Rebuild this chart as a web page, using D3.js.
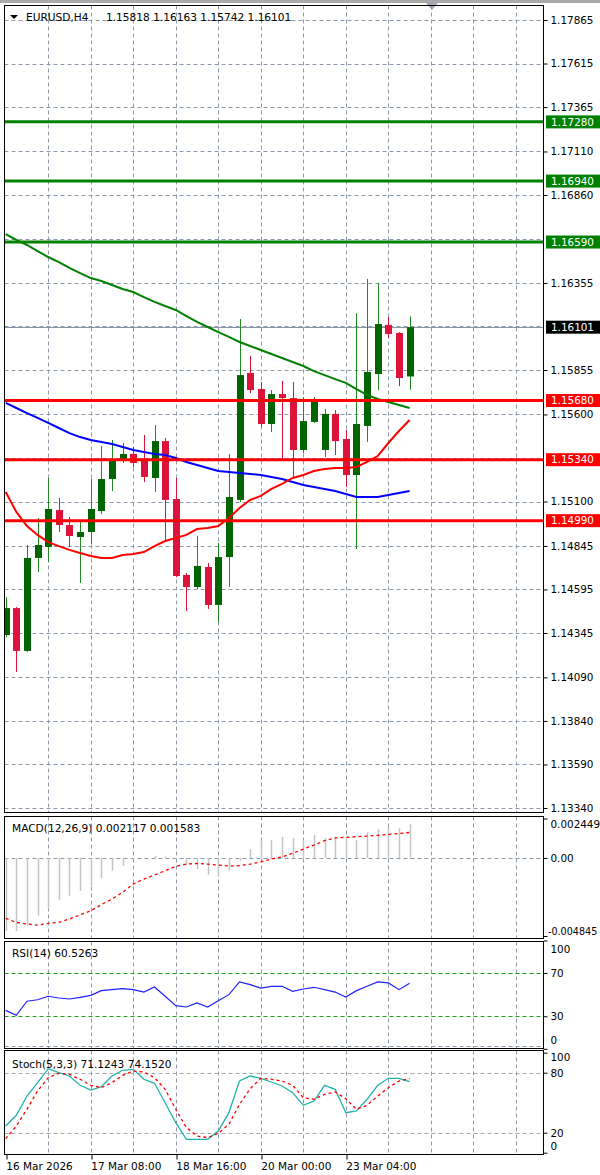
<!DOCTYPE html>
<html><head><meta charset="utf-8">
<script src="https://cdn.jsdelivr.net/npm/d3@7"></script>
<style>
html,body{margin:0;padding:0;background:#fff;overflow:hidden;}
svg{display:block;}
text{font-family:"DejaVu Sans",Verdana,sans-serif;fill:#000;}
</style></head><body>
<svg id="c" width="600" height="1175"></svg>
<script>
// ---------- DATA ----------
const symbolTitle = "EURUSD,H4";
const titleValues = "1.15818 1.16163 1.15742 1.16101";
const timeLabels = ["16 Mar 2026","17 Mar 08:00","18 Mar 16:00","20 Mar 00:00","23 Mar 04:00"];
const timeLabelIdx = [0,8,16,24,32];

const opens  = [1.14333,1.14488,1.14242,1.14776,1.14839,1.15051,1.14965,1.14896,1.14925,1.15045,1.15229,1.15333,1.15373,1.15344,1.15235,1.15447,1.15114,1.14678,1.14609,1.14724,1.14506,1.14781,1.15109,1.15838,1.15746,1.15545,1.15717,1.15694,1.15396,1.15557,1.15396,1.15603,1.15459,1.15252,1.15534,1.15832,1.16114,1.16068,1.15818];
const highs  = [1.14552,1.14494,1.14850,1.15005,1.15235,1.15120,1.15011,1.14982,1.15229,1.15419,1.15453,1.15436,1.15413,1.15482,1.15539,1.15465,1.15235,1.14689,1.14902,1.14747,1.14862,1.15373,1.16148,1.15936,1.15786,1.15740,1.15792,1.15786,1.15700,1.15700,1.15631,1.15625,1.15511,1.16182,1.16378,1.16355,1.16160,1.16073,1.16163];
const lows   = [1.14320,1.14121,1.14236,1.14695,1.14753,1.14925,1.14839,1.14632,1.14856,1.15028,1.15160,1.15321,1.15298,1.15212,1.15155,1.14879,1.14665,1.14471,1.14598,1.14483,1.14408,1.14609,1.15097,1.15723,1.15528,1.15499,1.15338,1.15235,1.15379,1.15551,1.15356,1.15367,1.15183,1.14827,1.15442,1.15740,1.16039,1.15763,1.15742];
const closes = [1.14488,1.14242,1.14776,1.14850,1.15057,1.14965,1.14902,1.14925,1.15057,1.15229,1.15344,1.15373,1.15321,1.15241,1.15447,1.15109,1.14672,1.14609,1.14730,1.14506,1.14781,1.15126,1.15826,1.15740,1.15545,1.15717,1.15694,1.15396,1.15562,1.15683,1.15603,1.15447,1.15252,1.15545,1.15844,1.16119,1.16062,1.15809,1.16101];

const maGreen = [1.16636,1.16602,1.16573,1.16538,1.16504,1.16475,1.16441,1.16412,1.16383,1.16366,1.16343,1.16320,1.16303,1.16274,1.16246,1.16223,1.16200,1.16165,1.16131,1.16102,1.16073,1.16045,1.16016,1.15993,1.15970,1.15947,1.15924,1.15901,1.15878,1.15849,1.15826,1.15803,1.15781,1.15746,1.15712,1.15689,1.15671,1.15654,1.15637];
const maBlue  = [1.15666,1.15637,1.15608,1.15580,1.15551,1.15522,1.15493,1.15470,1.15453,1.15442,1.15430,1.15413,1.15396,1.15384,1.15373,1.15367,1.15350,1.15327,1.15310,1.15292,1.15275,1.15269,1.15264,1.15258,1.15252,1.15241,1.15229,1.15212,1.15195,1.15183,1.15172,1.15160,1.15143,1.15126,1.15126,1.15126,1.15137,1.15149,1.15160];
const maRed   = [1.15155,1.15040,1.14959,1.14908,1.14867,1.14844,1.14822,1.14804,1.14787,1.14776,1.14776,1.14793,1.14799,1.14810,1.14844,1.14873,1.14890,1.14908,1.14942,1.14948,1.14959,1.15005,1.15063,1.15109,1.15132,1.15172,1.15201,1.15235,1.15252,1.15275,1.15287,1.15292,1.15292,1.15298,1.15327,1.15361,1.15436,1.15505,1.15568];

const priceTicks = [1.17865,1.17615,1.17365,1.17110,1.16860,1.16355,1.15855,1.15600,1.15100,1.14845,1.14595,1.14345,1.14090,1.13840,1.13590,1.13340];
const priceTickLabels = ["1.17865","1.17615","1.17365","1.17110","1.16860","1.16355","1.15855","1.15600","1.15100","1.14845","1.14595","1.14345","1.14090","1.13840","1.13590","1.13340"];
const hiddenGridTicks = [1.16605,1.16105,1.15350];
const priceDomain = [1.13340,1.17865];

const resistLevels = [1.17280,1.16940,1.16590];
const supportLevels = [1.15680,1.15340,1.14990];
const lastPrice = 1.16101;

const macdMain = [-0.00452,-0.00455,-0.00421,-0.00359,-0.00317,-0.00261,-0.00235,-0.00204,-0.00173,-0.00125,-0.00079,-0.00048,-0.00007,0.00002,0.00014,0.00009,-0.00004,-0.00048,-0.00069,-0.00104,-0.00117,-0.00079,-0.00017,0.00055,0.00107,0.00111,0.00132,0.00124,0.00111,0.00144,0.00124,0.00128,0.00132,0.00111,0.00159,0.00179,0.00196,0.00186,0.002117];
const macdSignal = [-0.00375,-0.00400,-0.00410,-0.00417,-0.00406,-0.00400,-0.00379,-0.00353,-0.00328,-0.00290,-0.00255,-0.00214,-0.00162,-0.00131,-0.00106,-0.00079,-0.00052,-0.00038,-0.00034,-0.00038,-0.00044,-0.00050,-0.00048,-0.00038,-0.00024,-0.00007,0.00007,0.00029,0.00055,0.00080,0.00107,0.00124,0.00128,0.00132,0.00136,0.00140,0.00146,0.00152,0.001583];
const macdDomain = [-0.004845,0.002449];
const macdTickVals = [0.002449,0,-0.004845];
const macdTickLabels = ["0.002449","0.00","-0.004845"];

const rsi = [35.5,30.9,43.9,45.3,48.5,46.9,46.0,47.5,49.4,53.7,54.6,55.5,54.6,52.4,57.1,48.5,39.8,38.6,42.3,38.6,44.4,50.0,61.7,59.2,56.1,57.7,57.7,53.1,55.2,56.8,54.6,52.4,47.8,53.7,57.7,61.7,60.8,54.6,60.5263];
const rsiLevels = [70,30];
const rsiTickVals = [100,70,30,0];

const stochK = [26.7,37.4,56.7,70,84,80,76.7,67.4,62.7,66,76.7,82.4,83.4,73.4,69.4,50,30,13.4,13.4,13.4,21.7,40,71.7,76.7,74.4,70.7,66.7,60,47.4,51.7,67.4,63.4,40,41.7,53.4,67.4,74.4,74.4,71.1243];
const stochD = [14,26.7,43.4,61.7,75,79.4,78.4,73.4,67.4,65,70,77.4,81.7,80.7,75,63.4,43.4,25,16.7,15,19.4,28.4,48.4,64,74.4,73.4,71.7,67.4,55,53.4,58.4,60.7,54,43.4,47.4,56.7,65,71.7,74.152];
const stochLevels = [80,20];
const stochTickVals = [100,80,20,0];

// ---------- LAYOUT ----------
const L = 4.5, R = 543.5;
const panels = {
  main:  {top:5.5,   bottom:812.5},
  macd:  {top:816.5, bottom:938.5},
  rsi:   {top:941.5, bottom:1048.5},
  stoch: {top:1050.5,bottom:1154.5}
};
const svg = d3.select("#c");
const nBars = closes.length;
const x = d3.scaleLinear().domain([0, nBars-1]).range([5.7, 409.6]);
const gridIdx = d3.range(4, 51, 4);
const gridColor = "#8c9aab";
const fs = "10.4px";

// clip paths
const defs = svg.append("defs");
Object.entries(panels).forEach(([k,p])=>{
  defs.append("clipPath").attr("id","clip-"+k).append("rect")
    .attr("x",L+0.5).attr("y",p.top+0.5).attr("width",R-L-1).attr("height",p.bottom-p.top-1);
});

// top frame
svg.append("rect").attr("x",0).attr("y",0).attr("width",600).attr("height",3).attr("fill","#a9a9a9");
svg.append("path").attr("d","M426,3 L438,3 L432,10 Z").attr("fill","#a0a8b4");

function vGrid(p){
  svg.append("g").selectAll("line").data(gridIdx).join("line")
    .attr("x1",d=>Math.round(x(d))+0.5).attr("x2",d=>Math.round(x(d))+0.5)
    .attr("y1",p.top).attr("y2",p.bottom)
    .attr("stroke",gridColor).attr("stroke-width",1).attr("stroke-dasharray","4,3");
}

// ---------- MAIN ----------
const y = d3.scaleLinear().domain(priceDomain).range([808, 20]);
const pm = panels.main;
vGrid(pm);
svg.append("g").selectAll("line").data(priceTicks.concat(hiddenGridTicks)).join("line")
  .attr("x1",L).attr("x2",R).attr("y1",d=>Math.round(y(d))+0.5).attr("y2",d=>Math.round(y(d))+0.5)
  .attr("stroke",gridColor).attr("stroke-dasharray","4,3");

const gMain = svg.append("g").attr("clip-path","url(#clip-main)");
// last price line
gMain.append("line").attr("x1",L).attr("x2",R)
  .attr("y1",Math.round(y(lastPrice))+0.5).attr("y2",Math.round(y(lastPrice))+0.5)
  .attr("stroke","#8896a6").attr("stroke-width",1);

// candles
const bars = d3.range(nBars).map(i=>({i,o:opens[i],h:highs[i],l:lows[i],c:closes[i]}));
const cx = d=>Math.round(x(d.i))+0.5;
const col = d=> d.c>=d.o ? "#006400" : "#dc143c";
gMain.append("g").selectAll("line").data(bars).join("line")
  .attr("x1",cx).attr("x2",cx).attr("y1",d=>y(d.h)).attr("y2",d=>y(d.l))
  .attr("stroke",d=> d.c>=d.o ? "#1f8a1f" : "#dc143c").attr("stroke-width",1);
gMain.append("g").selectAll("rect").data(bars).join("rect")
  .attr("x",d=>cx(d)-3.5).attr("width",7)
  .attr("y",d=>y(Math.max(d.o,d.c))).attr("height",d=>Math.max(1.5,Math.abs(y(d.o)-y(d.c))))
  .attr("fill",col);

// MAs
const maLine = arr => d3.line().x((d,i)=>x(i)).y(d=>y(d))(arr);
gMain.append("path").attr("d",maLine(maGreen)).attr("fill","none").attr("stroke","#008000").attr("stroke-width",2);
gMain.append("path").attr("d",maLine(maBlue)).attr("fill","none").attr("stroke","#0000ff").attr("stroke-width",2);
gMain.append("path").attr("d",maLine(maRed)).attr("fill","none").attr("stroke","#ff0000").attr("stroke-width",2);

// levels
const levels = resistLevels.map(v=>({v,c:"#008000"})).concat(supportLevels.map(v=>({v,c:"#ff0000"})));
gMain.append("g").selectAll("line").data(levels).join("line")
  .attr("x1",L).attr("x2",R).attr("y1",d=>y(d.v)).attr("y2",d=>y(d.v))
  .attr("stroke",d=>d.c).attr("stroke-width",3);

// price axis
const ax = svg.append("g").attr("transform",`translate(${R},0)`)
  .call(d3.axisRight(y).tickValues(priceTicks).tickFormat((d,i)=>priceTickLabels[i]).tickSize(4).tickPadding(3));
ax.select(".domain").remove();
ax.selectAll("line").attr("stroke","#000");
ax.selectAll("text").attr("font-size",fs).attr("font-family","DejaVu Sans").attr("fill","#000");

// level labels
const labG = svg.append("g");
const labData = levels.concat([{v:lastPrice,c:"#000"}]);
labG.selectAll("rect").data(labData).join("rect")
  .attr("x",R+2.5).attr("width",600-R-2.5).attr("y",d=>y(d.v)-6.5).attr("height",13).attr("fill",d=>d.c);
labG.selectAll("text").data(labData).join("text")
  .attr("x",R+7.5).attr("y",d=>y(d.v)).attr("dy","0.36em").attr("font-size",fs)
  .style("fill","#fff").text(d=>d.v.toFixed(5));

// title
svg.append("path").attr("d","M10,15 L18,15 L14,19 Z").attr("fill","#000");
svg.append("text").attr("x",26).attr("y",21).attr("font-size","10.6px").text(symbolTitle);
svg.append("text").attr("x",106).attr("y",21).attr("font-size","10.6px").text(titleValues);

// ---------- MACD ----------
const p1 = panels.macd;
const ym = d3.scaleLinear().domain(macdDomain).range([936, 818.5]);
vGrid(p1);
svg.append("line").attr("x1",L).attr("x2",R).attr("y1",Math.round(ym(0))+0.5).attr("y2",Math.round(ym(0))+0.5)
  .attr("stroke",gridColor).attr("stroke-dasharray","4,3");
const gM = svg.append("g").attr("clip-path","url(#clip-macd)");
gM.append("g").selectAll("line").data(macdMain).join("line")
  .attr("x1",(d,i)=>Math.round(x(i))+0.5).attr("x2",(d,i)=>Math.round(x(i))+0.5)
  .attr("y1",ym(0)).attr("y2",d=>ym(d)).attr("stroke","#c4c4c4").attr("stroke-width",1.5);
gM.append("path").attr("d",d3.line().x((d,i)=>x(i)).y(d=>ym(d))(macdSignal))
  .attr("fill","none").attr("stroke","#ff0000").attr("stroke-width",1.3).attr("stroke-dasharray","3,3");
const axM = svg.append("g").attr("transform",`translate(${R},0)`)
  .call(d3.axisRight(ym).tickValues(macdTickVals).tickFormat((d,i)=>macdTickLabels[i]).tickSize(4).tickPadding(3));
axM.select(".domain").remove();
axM.selectAll("line").attr("stroke","#000");
axM.selectAll("text").attr("font-size",(d,i)=> i===2 ? "9.6px" : fs).attr("fill","#000")
  .attr("x",(d,i)=> i===2 ? 4.5 : 7)
  .attr("dy",(d,i)=> i===0 ? "0.9em" : (i===2 ? "-0.2em" : "0.32em"));
svg.append("text").attr("x",12).attr("y",832).attr("font-size","10.6px")
  .text(`MACD(12,26,9) ${macdMain[nBars-1].toFixed(6)} ${macdSignal[nBars-1].toFixed(6)}`);

// ---------- RSI ----------
const p2 = panels.rsi;
const yr = d3.scaleLinear().domain([0,100]).range([1048.8, 940.5]);
vGrid(p2);
svg.append("g").selectAll("line").data(rsiLevels).join("line")
  .attr("x1",L).attr("x2",R).attr("y1",d=>Math.round(yr(d))+0.5).attr("y2",d=>Math.round(yr(d))+0.5)
  .attr("stroke","#1aa01a").attr("stroke-dasharray","4,3");
svg.append("line").attr("x1",L).attr("x2",R).attr("y1",1046.5).attr("y2",1046.5)
  .attr("stroke",gridColor).attr("stroke-dasharray","4,3");
svg.append("g").attr("clip-path","url(#clip-rsi)").append("path")
  .attr("d",d3.line().x((d,i)=>x(i)).y(d=>yr(d))(rsi))
  .attr("fill","none").attr("stroke","#2020ff").attr("stroke-width",1.2);
const axR = svg.append("g").attr("transform",`translate(${R},0)`)
  .call(d3.axisRight(yr).tickValues(rsiTickVals).tickFormat(d=>String(d)).tickSize(4).tickPadding(3));
axR.select(".domain").remove();
axR.selectAll("line").attr("stroke","#000");
axR.selectAll("text").attr("font-size",fs).attr("fill","#000")
  .attr("dy",d=> d===100 ? "1.2em" : (d===0 ? "-0.5em" : "0.32em"));
svg.append("text").attr("x",12).attr("y",957).attr("font-size","10.6px")
  .text(`RSI(14) ${rsi[nBars-1].toFixed(4)}`);

// ---------- STOCH ----------
const p3 = panels.stoch;
const ys = d3.scaleLinear().domain([0,100]).range([1152.7, 1052.7]);
vGrid(p3);
svg.append("g").selectAll("line").data(stochLevels).join("line")
  .attr("x1",L).attr("x2",R).attr("y1",d=>Math.round(ys(d))+0.5).attr("y2",d=>Math.round(ys(d))+0.5)
  .attr("stroke","#a8a8a8").attr("stroke-dasharray","4,3");
const gS = svg.append("g").attr("clip-path","url(#clip-stoch)");
gS.append("path").attr("d",d3.line().x((d,i)=>x(i)).y(d=>ys(d))(stochK))
  .attr("fill","none").attr("stroke","#20b2aa").attr("stroke-width",1.3);
gS.append("path").attr("d",d3.line().x((d,i)=>x(i)).y(d=>ys(d))(stochD))
  .attr("fill","none").attr("stroke","#ff0000").attr("stroke-width",1.3).attr("stroke-dasharray","3,3");
const axS = svg.append("g").attr("transform",`translate(${R},0)`)
  .call(d3.axisRight(ys).tickValues(stochTickVals).tickFormat(d=>String(d)).tickSize(4).tickPadding(3));
axS.select(".domain").remove();
axS.selectAll("line").attr("stroke","#000");
axS.selectAll("text").attr("font-size",fs).attr("fill","#000")
  .attr("dy",d=> d===100 ? "0.75em" : (d===0 ? "-0.3em" : "0.32em"));
svg.append("text").attr("x",12).attr("y",1068).attr("font-size","10.6px")
  .text(`Stoch(5,3,3) ${stochK[nBars-1].toFixed(4)} ${stochD[nBars-1].toFixed(4)}`);

// time axis
const axT = svg.append("g").attr("transform",`translate(0,${p3.bottom})`)
  .call(d3.axisBottom(x).tickValues(timeLabelIdx).tickFormat((d,i)=>timeLabels[i]).tickSize(5).tickPadding(3));
axT.select(".domain").remove();
axT.selectAll("line").attr("stroke","#000").attr("transform",function(d){return `translate(${Math.round(x(d))+0.5-x(d)},0)`;});
axT.selectAll("text").attr("font-size","10.5px").attr("fill","#000").attr("text-anchor","start").attr("x",0);

// panel borders
Object.values(panels).forEach(p=>{
  svg.append("rect").attr("x",L).attr("y",p.top).attr("width",R-L).attr("height",p.bottom-p.top)
    .attr("fill","none").attr("stroke","#000").attr("stroke-width",1);
});
</script>
</body></html>
